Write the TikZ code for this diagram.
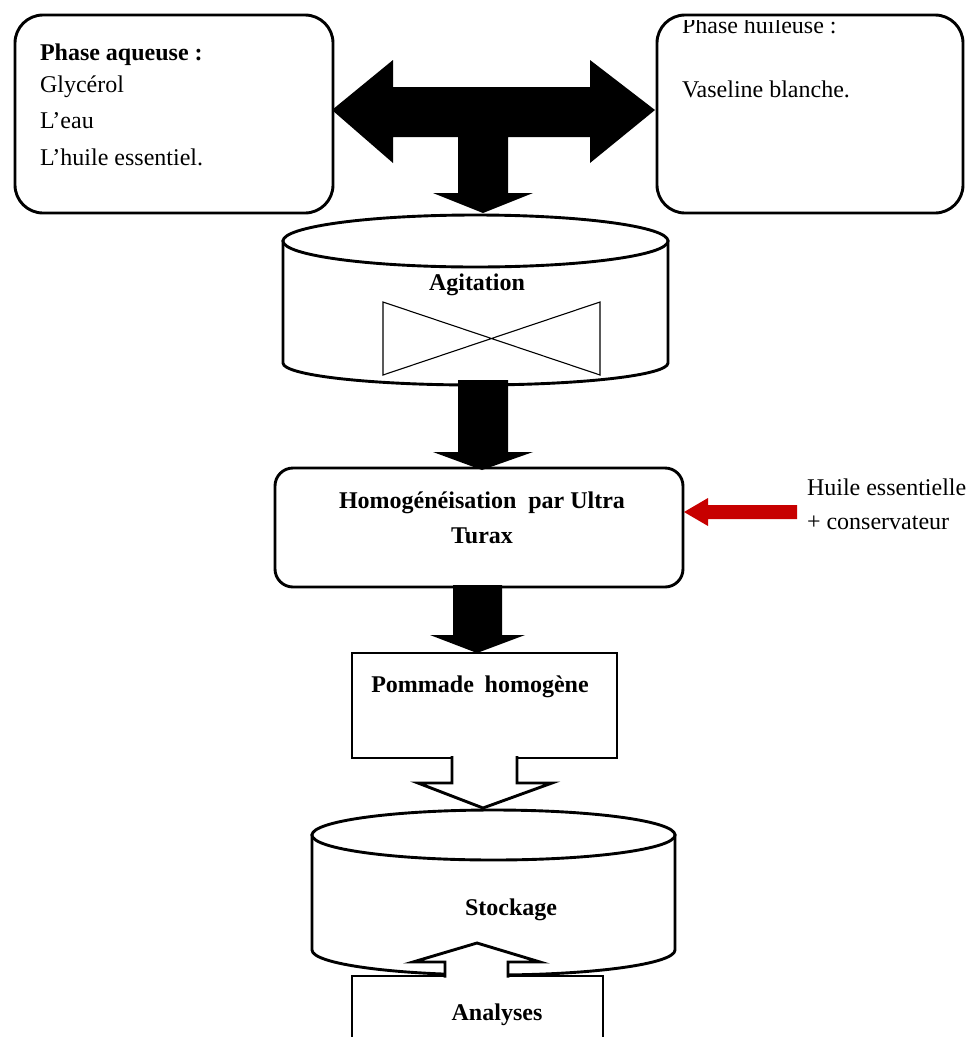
\documentclass[tikz,border=0pt]{standalone}
\usepackage{fontspec}
\setmainfont{Liberation Serif}
\begin{document}
\begin{tikzpicture}[x=1pt,y=-1pt,
  every node/.style={inner sep=0pt, outer sep=0pt},
  frame/.style={draw=black, line width=2.9pt, fill=white},
  rbox/.style={frame, rounded corners=28pt},
  txt/.style={font=\fontsize{24}{30}\selectfont, anchor=base west},
  btxt/.style={font=\fontsize{24}{30}\selectfont\bfseries, anchor=base},
  blockarrow/.style={fill=black, draw=none},
  hollowarrow/.style={fill=white, draw=black, line width=2.9pt, line join=miter},
  redarrow/.style={fill=red!78!black, draw=none},
  thinline/.style={draw=black, line width=1.1pt}]
\useasboundingbox (0,0) rectangle (974,1037);
\fill[white] (0,0) rectangle (974,1037);

% top boxes
\node[rbox, minimum width=318pt, minimum height=198pt] (aq) at (174,114) {};
\node[rbox, minimum width=306pt, minimum height=198pt] (hu) at (810,114) {};
\node[txt, font=\fontsize{24}{30}\selectfont\bfseries] (aq1) at (40,60) {Phase aqueuse :};
\node[txt] (aq2) at (40,92) {Glycérol};
\node[txt] (aq3) at (40,128) {L’eau};
\node[txt] (aq4) at (40,165) {L’huile essentiel.};
\begin{scope}
  \clip (600,20) rectangle (974,220);
  \node[txt] (hu1) at (682,33) {Phase huileuse :};
\end{scope}
\node[txt] (hu2) at (682,97) {Vaseline blanche.};

% Agitation cylinder
\path[frame] (283,241) -- (283,363) arc[start angle=180,end angle=360,x radius=192.5pt,y radius=22pt] -- (668,241) -- cycle;
\path[frame] (475.5,241) ellipse[x radius=192.5pt, y radius=26pt];
\node[btxt] (agi) at (477,290) {Agitation};
\draw[thinline] (383,302) -- (600,375) -- (600,302) -- (383,375) -- cycle;

% double arrow with stem
\fill[blockarrow] (332,110) -- (393,60) -- (393,87) -- (590,87) -- (590,60) -- (655,110)
  -- (590,163) -- (590,137) -- (508,137) -- (508,193) -- (533,193) -- (483,213)
  -- (433,193) -- (458,193) -- (458,137) -- (393,137) -- (393,163) -- cycle;

% Homogeneisation box
\node[rbox, rounded corners=18pt, minimum width=408pt, minimum height=119pt] (hom) at (479,527.5) {};
\node[btxt] (hom1) at (482,508) {Homogénéisation\hspace{0.25em} par Ultra};
\node[btxt] (hom2) at (482,543) {Turax};

% agitation -> homog
\fill[blockarrow] (458,380) -- (508,380) -- (508,452) -- (533,452) -- (482,470) -- (433,452) -- (458,452) -- cycle;

% red arrow and label
\fill[redarrow] (797,505) -- (708,505) -- (708,498) -- (684,512) -- (708,526) -- (708,519) -- (797,519) -- cycle;
\node[txt] (he1) at (807,495) {Huile essentielle};
\node[txt] (he2) at (807,529) {+ conservateur};

% Pommade box
\node[frame, minimum width=265pt, minimum height=105pt] (pom) at (484.5,705.5) {};
\node[btxt] (pomt) at (480,692) {Pommade\hspace{0.2em} homogène};

% homog -> pommade
\fill[blockarrow] (453,585) -- (502,585) -- (502,635) -- (525,635) -- (477,653) -- (430,635) -- (453,635) -- cycle;

% Stockage cylinder
\path[frame] (312,835) -- (312,950) arc[start angle=180,end angle=360,x radius=181.5pt,y radius=25pt] -- (675,835) -- cycle;
\path[frame] (493.5,835) ellipse[x radius=181.5pt, y radius=25pt];
\node[btxt] (sto) at (511,915) {Stockage};

% pommade -> stockage hollow arrow
\path[hollowarrow] (452,756) -- (452,783) -- (418,783) -- (483,808) -- (552,783) -- (517,783) -- (517,756);

% Analyses box
\node[frame, minimum width=251pt, minimum height=90pt] (ana) at (477.5,1021) {};
\node[btxt] (anat) at (497,1020) {Analyses};

% analyses -> stockage hollow arrow
\path[hollowarrow] (445,977.5) -- (445,962) -- (413,962) -- (477,943) -- (540,962) -- (508,962) -- (508,977.5);
\end{tikzpicture}
\end{document}
